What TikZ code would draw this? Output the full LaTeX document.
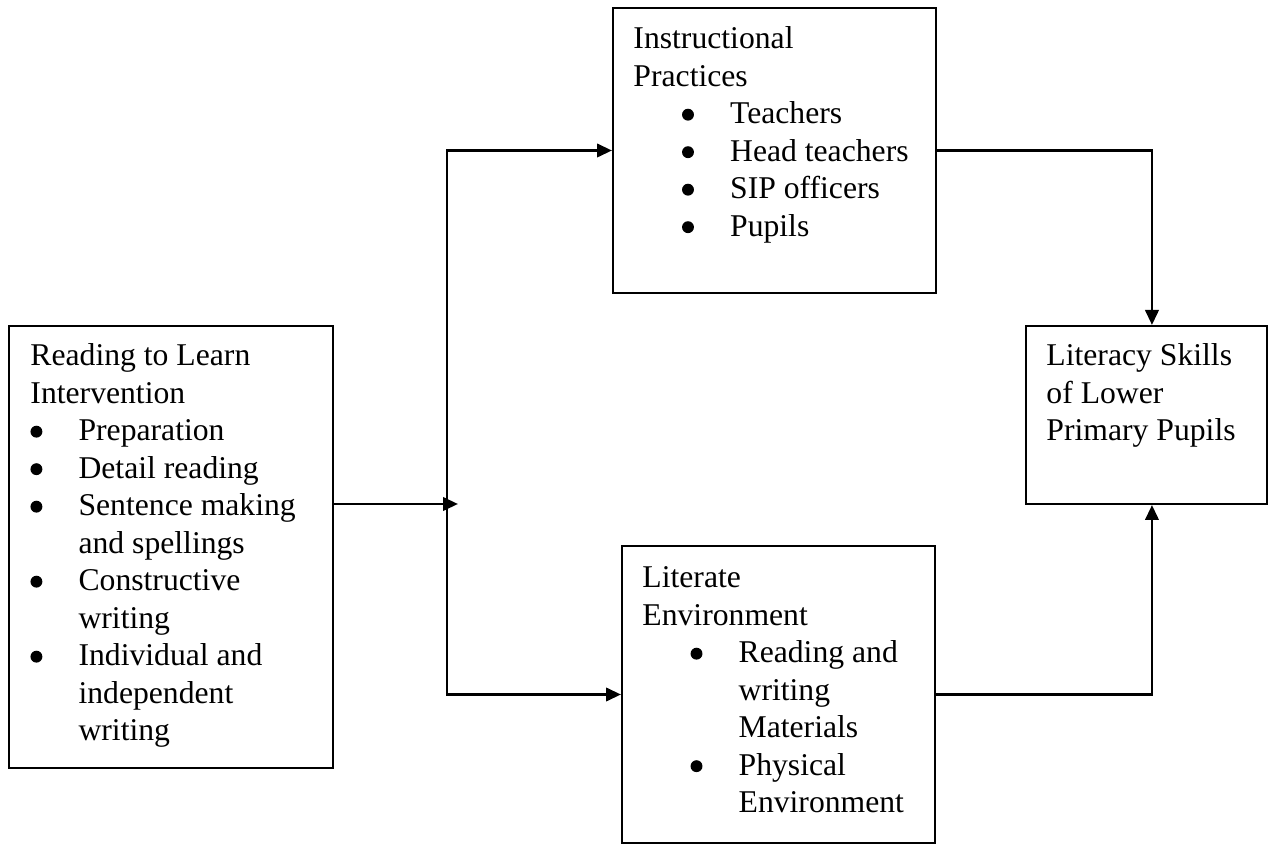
\documentclass[tikz,border=0pt]{standalone}
\usepackage{fontspec}
\setmainfont{Liberation Serif}
\usetikzlibrary{arrows.meta}

% bullet line helpers
\newcommand{\bigbul}{\tikz[baseline=0pt]\fill (2.5pt,3.8pt) circle (2.5pt);}
\newcommand{\bl}[1]{\hspace*{#1}\makebox[20.2pt][l]{\bigbul}}
\newcommand{\cont}[1]{\hspace*{#1}\hspace*{20.2pt}}

\begin{document}
\begin{tikzpicture}[
    x=0.42pt, y=-0.42pt,
    box/.style={draw=black, line width=0.8pt, inner sep=0pt},
    txt/.style={anchor=north west, inner sep=0pt, align=left,
                font=\fontsize{13.3}{15.75}\selectfont},
    arr/.style={-{Triangle[length=6.3pt, width=5.6pt]}, line width=1.2pt},
]
\useasboundingbox (0,0) rectangle (1269,845);

% Intervention (left)
\node[box, minimum width=136.1pt, minimum height=185.6pt] (rtl) at (171, 547) {};
\node[txt] (rtltxt) at (30, 339)
    {\strut Reading to Learn\\
     Intervention\\
     \bl{0pt}Preparation\\
     \bl{0pt}Detail reading\\
     \bl{0pt}Sentence making\\
     \cont{0pt}and spellings\\
     \bl{0pt}Constructive\\
     \cont{0pt}writing\\
     \bl{0pt}Individual and\\
     \cont{0pt}independent\\
     \cont{0pt}writing};

% Instructional practices (top)
\node[box, minimum width=135.7pt, minimum height=119.7pt] (ip) at (774.5, 150.5) {};
\node[txt] (iptxt) at (633, 22)
    {\strut Instructional\\
     Practices\\
     \bl{20.4pt}Teachers\\
     \bl{20.4pt}Head teachers\\
     \bl{20.4pt}SIP officers\\
     \bl{20.4pt}Pupils};

% Literate environment (bottom)
\node[box, minimum width=131.5pt, minimum height=124.7pt] (le) at (778.5, 694.5) {};
\node[txt] (letxt) at (642, 561)
    {\strut Literate\\
     Environment\\
     \bl{20.2pt}Reading and\\
     \cont{20.2pt}writing\\
     \cont{20.2pt}Materials\\
     \bl{20.2pt}Physical\\
     \cont{20.2pt}Environment};

% Outcome (right)
\node[box, minimum width=101.2pt, minimum height=74.8pt] (ls) at (1146.5, 415) {};
\node[txt] (lstxt) at (1046, 339)
    {\strut Literacy Skills\\
     of Lower\\
     Primary Pupils};

% Fork
\coordinate (fork) at (447, 504);
\coordinate (forktip) at (458, 504);
\draw[arr] (rtl.east |- forktip) -- (forktip);
\draw[arr] (fork) |- (ip.west);
\draw[arr] (fork) |- (le.west);

% Into outcome
\draw[arr] (ip.east) -| ([xshift=2.3pt]ls.north);
\draw[arr] (le.east) -| ([xshift=2.3pt]ls.south);

\end{tikzpicture}
\end{document}
